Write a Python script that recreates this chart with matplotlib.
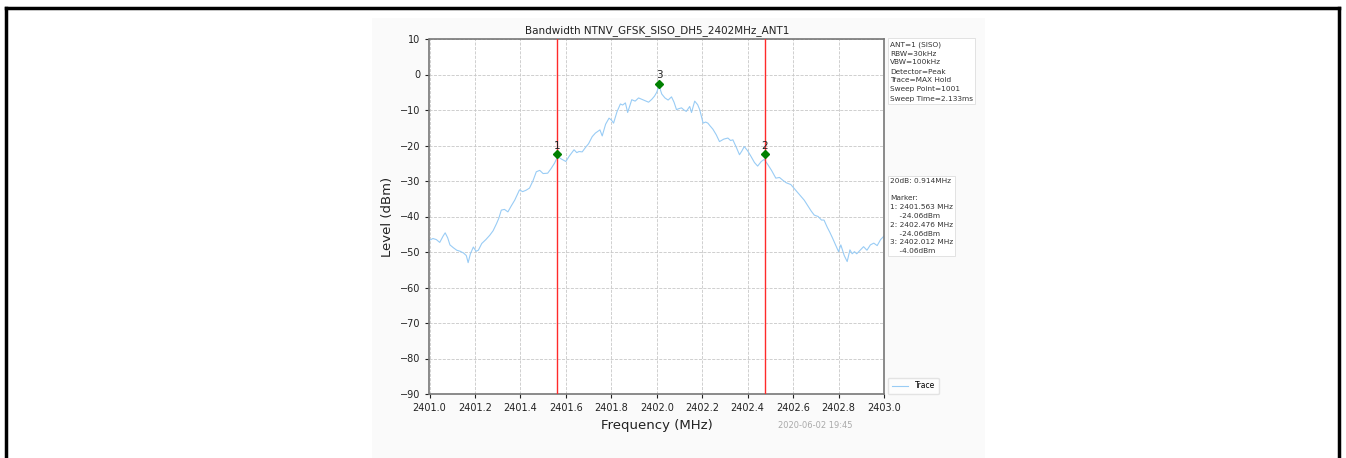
import numpy as np
import matplotlib
matplotlib.use("Agg")
import matplotlib.pyplot as plt
from matplotlib.lines import Line2D
from matplotlib.patches import Rectangle

# trace (MHz, dBm)
freq = [2401.000, 2401.015, 2401.030, 2401.045, 2401.060, 2401.069, 2401.080, 2401.090,
        2401.105, 2401.120, 2401.135, 2401.150, 2401.162, 2401.170, 2401.180, 2401.193,
        2401.205, 2401.215, 2401.230, 2401.248, 2401.265, 2401.280, 2401.295, 2401.305,
        2401.316, 2401.330, 2401.345, 2401.360, 2401.375, 2401.396, 2401.410, 2401.425,
        2401.440, 2401.455, 2401.470, 2401.485, 2401.500, 2401.520, 2401.535, 2401.550,
        2401.564, 2401.580, 2401.600, 2401.615, 2401.636, 2401.648, 2401.658, 2401.672,
        2401.687, 2401.700, 2401.716, 2401.730, 2401.750, 2401.760, 2401.775, 2401.790,
        2401.800, 2401.810, 2401.825, 2401.840, 2401.850, 2401.862, 2401.872, 2401.890,
        2401.905, 2401.920, 2401.935, 2401.950, 2401.964, 2401.978, 2401.990, 2402.000,
        2402.010, 2402.022, 2402.036, 2402.050, 2402.065, 2402.076, 2402.087, 2402.098,
        2402.109, 2402.120, 2402.130, 2402.145, 2402.153, 2402.167, 2402.180, 2402.189,
        2402.204, 2402.215, 2402.225, 2402.235, 2402.247, 2402.262, 2402.276, 2402.295,
        2402.313, 2402.325, 2402.335, 2402.350, 2402.364, 2402.375, 2402.385, 2402.400,
        2402.415, 2402.430, 2402.444, 2402.460, 2402.473, 2402.490, 2402.505, 2402.524,
        2402.540, 2402.555, 2402.570, 2402.590, 2402.610, 2402.630, 2402.649, 2402.665,
        2402.680, 2402.693, 2402.710, 2402.725, 2402.736, 2402.750, 2402.762, 2402.773,
        2402.790, 2402.800, 2402.810, 2402.825, 2402.838, 2402.850, 2402.860, 2402.870,
        2402.880, 2402.895, 2402.910, 2402.925, 2402.940, 2402.955, 2402.970, 2402.985,
        2403.000]
level = [-46.7, -46.2, -46.5, -47.3, -45.5, -44.6, -46.0, -48.0,
         -48.8, -49.5, -49.8, -50.3, -51.0, -53.0, -50.5, -48.6,
         -49.8, -49.5, -47.6, -46.5, -45.3, -44.0, -42.0, -40.5,
         -38.2, -38.0, -38.7, -37.0, -35.4, -32.5, -33.0, -32.6,
         -32.0, -30.0, -27.4, -27.0, -27.9, -27.8, -26.5, -25.0,
         -23.1, -23.8, -24.5, -23.0, -21.2, -22.0, -21.7, -21.8,
         -20.5, -19.5, -17.5, -16.5, -15.6, -17.3, -14.0, -12.3,
         -12.8, -13.7, -10.5, -8.3, -8.6, -8.0, -10.7, -7.1,
         -7.5, -6.6, -7.0, -7.4, -7.8, -7.0, -6.1, -5.0,
         -3.1, -5.5, -6.6, -7.2, -6.3, -7.8, -9.9, -9.6,
         -9.4, -10.0, -10.4, -9.0, -10.7, -7.5, -8.5, -9.9,
         -13.7, -13.4, -13.7, -14.5, -15.4, -17.0, -18.9, -18.2,
         -17.9, -18.6, -18.4, -20.5, -22.6, -21.5, -20.3, -21.5,
         -23.1, -24.8, -25.8, -24.5, -23.9, -25.5, -27.0, -29.2,
         -29.0, -29.8, -30.5, -31.0, -32.5, -34.0, -35.4, -37.0,
         -38.5, -39.6, -40.0, -41.0, -41.0, -43.0, -44.5, -46.0,
         -48.5, -49.9, -48.0, -51.0, -52.7, -49.4, -50.5, -49.9,
         -50.5, -49.5, -48.5, -49.5, -48.0, -47.5, -48.2, -46.5,
         -45.5]

marker_freq = [2401.563, 2402.476, 2402.012]
marker_level = [-22.5, -22.5, -2.6]
marker_names = ["1", "2", "3"]
marker_text = ["2401.563 MHz\n    -24.06dBm", "2402.476 MHz\n    -24.06dBm",
               "2402.012 MHz\n    -4.06dBm"]

fig = plt.figure(figsize=(13.46, 4.58), dpi=100, facecolor='white')

# outer page frame and plot panel
fig.add_artist(Rectangle((372 / 1346, 0), 613 / 1346, 1 - 18 / 458,
                         transform=fig.transFigure, facecolor='#fafafa',
                         edgecolor='none', zorder=-5))
fig.add_artist(Line2D([6 / 1346, 1339 / 1346], [1 - 8 / 458, 1 - 8 / 458],
                      transform=fig.transFigure, color='black', lw=2.5))
fig.add_artist(Line2D([6 / 1346, 6 / 1346], [0, 1 - 8 / 458],
                      transform=fig.transFigure, color='black', lw=2.5))
fig.add_artist(Line2D([1339 / 1346, 1339 / 1346], [0, 1 - 8 / 458],
                      transform=fig.transFigure, color='black', lw=2.5))

ax = fig.add_axes([429.5 / 1346, 1 - 394 / 458, 454.5 / 1346, 355 / 458])
ax.set_facecolor('white')
ax.plot(freq, level, color='#99ccf5', lw=0.8, label='Trace')

for f in marker_freq[:2]:
    ax.axvline(f, color='#ff2a2a', lw=1.0, zorder=3)
ax.plot(marker_freq, marker_level, 'D', color='green', ms=4, ls='none', zorder=4)
for f, l, n in zip(marker_freq, marker_level, marker_names):
    ax.text(f, l + 1.0, n, ha='center', va='bottom', fontsize=7.5, color='#222222')

ax.set_xlim(2401.0, 2403.0)
ax.set_ylim(-90, 10)
ax.set_xticks(np.arange(2401.0, 2403.01, 0.2))
ax.set_xticklabels([f"{v:.1f}" for v in np.arange(2401.0, 2403.01, 0.2)])
ax.set_yticks(np.arange(-90, 11, 10))
ax.tick_params(labelsize=7, colors='#222222', length=3)
ax.grid(True, ls='--', color='#c8c8c8', lw=0.6)
for sp in ax.spines.values():
    sp.set_color('#777777')
    sp.set_linewidth(1.2)

ax.set_title("Bandwidth NTNV_GFSK_SISO_DH5_2402MHz_ANT1", fontsize=7.5, pad=4, color='#222222')
ax.set_xlabel("Frequency (MHz)", fontsize=9.5, color='#222222')
ax.set_ylabel("Level (dBm)", fontsize=9.5, color='#222222')

box = dict(boxstyle='square,pad=0.3', facecolor='white', edgecolor='#dddddd', lw=0.6)
info = ("ANT=1 (SISO)\nRBW=30kHz\nVBW=100kHz\nDetector=Peak\n"
        "Trace=MAX Hold\nSweep Point=1001\nSweep Time=2.133ms")
fig.text(890 / 1346, 1 - 41 / 458, info, fontsize=5.3, va='top', ha='left',
         color='#333333', bbox=box, linespacing=1.6)

meas = "20dB: 0.914MHz\n\nMarker:\n" + "\n".join(
    f"{n}: {t}" for n, t in zip(marker_names, marker_text))
fig.text(890 / 1346, 1 - 178 / 458, meas, fontsize=5.3, va='top', ha='left',
         color='#333333', bbox=box, linespacing=1.55)

ax.legend(loc='lower left', bbox_to_anchor=(1.005, -0.005), fontsize=5.5,
          frameon=True, edgecolor='#dddddd', handlelength=2.2, borderaxespad=0.2,
          borderpad=0.5)

fig.text(852 / 1346, 1 - 425 / 458, "2020-06-02 19:45", fontsize=6, color='#aaaaaa',
         ha='right', va='center')

fig.savefig("out.png", dpi=100)
